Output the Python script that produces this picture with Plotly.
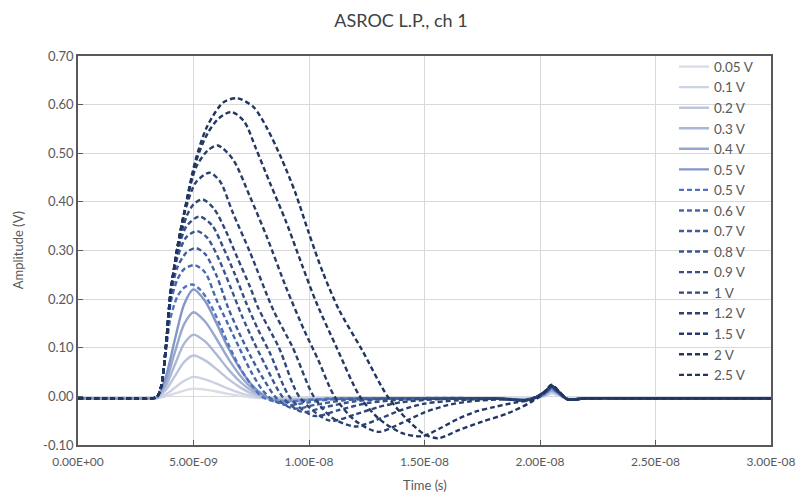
import plotly.graph_objects as go

TIME_UNIT = 1e-9  # time lists below are in nanoseconds

# ---- solid series (shared time grid, ns) ----
t_solid = [0, 3.0, 3.4, 3.8, 4.2, 4.6, 5.0, 5.5, 6.0, 6.5, 7.0, 7.5, 8.0, 8.6, 9.5, 11, 14, 18,
           19.5, 20.2, 20.5, 20.8, 21.2, 22, 25, 30]
v_005 = [-0.004, -0.004, -0.004, 0.000, 0.006, 0.012, 0.016, 0.014, 0.010, 0.005, 0.001, -0.002, -0.004,
         -0.004, -0.004, -0.004, -0.004, -0.004, -0.005, 0.000, 0.006, 0.002, -0.005, -0.004, -0.004, -0.004]
v_01 = [-0.004, -0.004, -0.004, 0.004, 0.018, 0.032, 0.040, 0.035, 0.026, 0.016, 0.007, 0.001, -0.003,
        -0.005, -0.005, -0.004, -0.004, -0.004, -0.005, 0.001, 0.008, 0.003, -0.005, -0.004, -0.004, -0.004]
v_02 = [-0.004, -0.004, -0.003, 0.013, 0.042, 0.071, 0.084, 0.074, 0.056, 0.036, 0.019, 0.006, -0.002,
        -0.006, -0.006, -0.005, -0.004, -0.004, -0.005, 0.002, 0.010, 0.004, -0.005, -0.004, -0.004, -0.004]
v_03 = [-0.004, -0.004, -0.003, 0.021, 0.066, 0.109, 0.127, 0.113, 0.086, 0.056, 0.031, 0.012, 0.000,
        -0.007, -0.007, -0.005, -0.004, -0.004, -0.006, 0.003, 0.012, 0.005, -0.006, -0.004, -0.004, -0.004]
v_04 = [-0.004, -0.004, -0.002, 0.030, 0.092, 0.149, 0.173, 0.154, 0.118, 0.078, 0.044, 0.018, 0.002,
        -0.008, -0.008, -0.005, -0.004, -0.004, -0.006, 0.003, 0.013, 0.005, -0.006, -0.004, -0.004, -0.004]
v_05s = [-0.004, -0.004, -0.002, 0.040, 0.118, 0.190, 0.220, 0.196, 0.150, 0.100, 0.058, 0.025, 0.004,
         -0.009, -0.009, -0.005, -0.004, -0.004, -0.006, 0.004, 0.015, 0.006, -0.006, -0.004, -0.004, -0.004]

# ---- dashed series (own time grids, ns) ----
t_d05 = [0, 3.0, 3.4, 3.6, 3.8, 4.0, 4.3, 4.6, 4.95, 5.3, 5.7, 6.1, 6.5, 7.0, 7.5, 8.0, 8.8, 9.6, 10.8, 13, 18,
         19.5, 20.2, 20.5, 20.8, 21.2, 22, 25, 30]
v_d05 = [-0.004, -0.004, -0.002, 0.020, 0.090, 0.160, 0.205, 0.224, 0.230, 0.219, 0.192, 0.152, 0.108, 0.060,
         0.024, -0.002, -0.013, -0.009, -0.005, -0.004, -0.004, -0.007, 0.006, 0.016, 0.007, -0.006, -0.004,
         -0.004, -0.004]
t_d06 = [0, 3.0, 3.4, 3.6, 3.8, 4.0, 4.3, 4.6, 5.05, 5.5, 6.0, 6.5, 7.0, 7.5, 8.0, 8.4, 9.0, 10.0, 11.0, 13, 18,
         19.5, 20.2, 20.5, 20.8, 21.2, 22, 25, 30]
v_d06 = [-0.004, -0.004, -0.002, 0.020, 0.095, 0.190, 0.240, 0.262, 0.270, 0.255, 0.198, 0.148, 0.098, 0.050,
         0.012, -0.006, -0.018, -0.012, -0.006, -0.004, -0.004, -0.007, 0.007, 0.018, 0.008, -0.006, -0.004,
         -0.004, -0.004]
t_d07 = [0, 3.0, 3.4, 3.6, 3.8, 4.0, 4.3, 4.7, 5.1, 5.5, 6.0, 6.5, 7.0, 7.5, 8.0, 8.6, 9.3, 10.3, 11.5, 13, 18,
         19.5, 20.2, 20.5, 20.8, 21.2, 22, 25, 30]
v_d07 = [-0.004, -0.004, -0.002, 0.020, 0.098, 0.200, 0.265, 0.296, 0.305, 0.293, 0.248, 0.182, 0.128, 0.080,
         0.038, -0.004, -0.025, -0.017, -0.008, -0.005, -0.004, -0.007, 0.007, 0.018, 0.008, -0.006, -0.004,
         -0.004, -0.004]
t_d08 = [0, 3.0, 3.4, 3.6, 3.8, 4.0, 4.3, 4.7, 5.15, 5.6, 6.1, 6.6, 7.1, 7.6, 8.1, 8.9, 9.7, 10.7, 12.0, 13.5, 18,
         19.5, 20.2, 20.5, 20.8, 21.2, 22, 25, 30]
v_d08 = [-0.004, -0.004, -0.002, 0.020, 0.100, 0.205, 0.285, 0.328, 0.340, 0.326, 0.282, 0.225, 0.165, 0.113,
         0.065, -0.004, -0.032, -0.022, -0.010, -0.005, -0.004, -0.007, 0.008, 0.019, 0.009, -0.006, -0.004,
         -0.004, -0.004]
t_d09 = [0, 3.0, 3.4, 3.6, 3.8, 4.0, 4.3, 4.7, 5.25, 5.8, 6.3, 6.8, 7.3, 7.8, 8.3, 9.2, 10.2, 11.3, 12.5, 14, 18,
         19.5, 20.2, 20.5, 20.8, 21.2, 22, 25, 30]
v_d09 = [-0.004, -0.004, -0.002, 0.020, 0.100, 0.208, 0.295, 0.350, 0.370, 0.352, 0.305, 0.250, 0.190, 0.137,
         0.090, -0.004, -0.040, -0.028, -0.014, -0.007, -0.004, -0.007, 0.008, 0.020, 0.009, -0.006, -0.004,
         -0.004, -0.004]
t_d10 = [0, 3.0, 3.4, 3.6, 3.8, 4.0, 4.3, 4.7, 5.0, 5.4, 5.9, 6.4, 6.9, 7.45, 7.8, 8.7, 9.6, 10.9, 12.0, 13.0,
         14.0, 15.5, 18, 19.5, 20.2, 20.5, 20.8, 21.2, 22, 25, 30]
v_d10 = [-0.004, -0.004, -0.002, 0.020, 0.100, 0.210, 0.300, 0.370, 0.395, 0.405, 0.385, 0.340, 0.285, 0.225,
         0.182, 0.100, -0.002, -0.050, -0.037, -0.022, -0.012, -0.006, -0.004, -0.007, 0.009, 0.021, 0.009,
         -0.006, -0.004, -0.004, -0.004]
t_d12 = [0, 3.0, 3.4, 3.6, 3.8, 4.0, 4.3, 4.6, 5.1, 5.7, 6.15, 6.7, 7.45, 8.45, 9.3, 10.2, 11.0, 12.0, 13.0, 14.0,
         15.0, 16.5, 18, 19.5, 20.2, 20.5, 20.8, 21.2, 22, 25, 30]
v_d12 = [-0.004, -0.004, -0.002, 0.020, 0.100, 0.210, 0.305, 0.375, 0.440, 0.460, 0.442, 0.378, 0.296, 0.178,
         0.100, 0.000, -0.044, -0.062, -0.047, -0.028, -0.015, -0.008, -0.005, -0.007, 0.009, 0.021, 0.010,
         -0.006, -0.004, -0.004, -0.004]
t_d15 = [0, 3.0, 3.4, 3.6, 3.8, 4.0, 4.3, 4.6, 5.1, 5.6, 6.05, 6.7, 7.45, 8.2, 9.0, 9.8, 10.4, 11.1, 12.0, 13.0,
         14.0, 15.0, 16.0, 17.0, 18.5, 19.5, 20.2, 20.5, 20.8, 21.2, 22, 25, 30]
v_d15 = [-0.004, -0.004, -0.002, 0.020, 0.100, 0.210, 0.305, 0.378, 0.470, 0.505, 0.516, 0.488, 0.410, 0.325,
         0.225, 0.135, 0.075, 0.000, -0.050, -0.073, -0.055, -0.033, -0.018, -0.010, -0.006, -0.007, 0.009,
         0.022, 0.010, -0.006, -0.004, -0.004, -0.004]
t_d20 = [0, 3.0, 3.4, 3.6, 3.8, 4.0, 4.3, 4.6, 5.1, 5.6, 6.1, 6.65, 7.2, 7.7, 8.3, 9.0, 9.7, 10.3, 11.2, 12.2,
         13.0, 14.0, 14.9, 15.7, 16.5, 17.3, 18.0, 19.0, 19.8, 20.2, 20.5, 20.8, 21.2, 22, 25, 30]
v_d20 = [-0.004, -0.004, -0.002, 0.020, 0.100, 0.210, 0.305, 0.378, 0.482, 0.540, 0.572, 0.585, 0.565, 0.510,
         0.440, 0.360, 0.270, 0.195, 0.100, 0.000, -0.045, -0.075, -0.082, -0.065, -0.045, -0.030, -0.022,
         -0.012, -0.006, 0.008, 0.022, 0.011, -0.006, -0.004, -0.004, -0.004]
t_d25 = [0, 3.0, 3.4, 3.6, 3.8, 4.0, 4.3, 4.6, 5.1, 5.6, 6.3, 6.9, 7.6, 8.2, 8.8, 9.4, 10.0, 10.6, 11.3, 12.3,
         13.4, 14.3, 15.0, 15.6, 16.5, 17.5, 18.6, 19.6, 20.2, 20.5, 20.8, 21.2, 22, 25, 30]
v_d25 = [-0.004, -0.004, -0.002, 0.020, 0.100, 0.210, 0.305, 0.378, 0.488, 0.556, 0.605, 0.613, 0.595, 0.550,
         0.490, 0.420, 0.335, 0.255, 0.178, 0.095, 0.000, -0.050, -0.078, -0.086, -0.069, -0.052, -0.035,
         -0.012, 0.010, 0.024, 0.012, -0.006, -0.004, -0.004, -0.004]

series_names = ["0.05 V", "0.1 V", "0.2 V", "0.3 V", "0.4 V", "0.5 V",
                "0.5 V", "0.6 V", "0.7 V", "0.8 V", "0.9 V", "1 V", "1.2 V", "1.5 V", "2 V", "2.5 V"]
series_t = [t_solid] * 6 + [t_d05, t_d06, t_d07, t_d08, t_d09, t_d10, t_d12, t_d15, t_d20, t_d25]
series_v = [v_005, v_01, v_02, v_03, v_04, v_05s,
            v_d05, v_d06, v_d07, v_d08, v_d09, v_d10, v_d12, v_d15, v_d20, v_d25]

x_tick_vals = [0, 5e-9, 1e-8, 1.5e-8, 2e-8, 2.5e-8, 3e-8]
x_tick_text = ["0.00E+00", "5.00E-09", "1.00E-08", "1.50E-08", "2.00E-08", "2.50E-08", "3.00E-08"]
y_tick_vals = [-0.1, 0.0, 0.1, 0.2, 0.3, 0.4, 0.5, 0.6, 0.7]
y_tick_text = ["-0.10", "0.00", "0.10", "0.20", "0.30", "0.40", "0.50", "0.60", "0.70"]

# ---- styles ----
colors = ["#d9dce6", "#cdd2e2", "#bcc5dd", "#aab6d6", "#97a7cf", "#8496c6",
          "#4f74bd", "#4769ae", "#3f5e9d", "#3a5690", "#344d83", "#2f4678", "#2b4170", "#273c69", "#233763",
          "#203560"]
dashes = ["solid"] * 6 + ["5px,3px"] * 10

fig = go.Figure()
for name, ts, vs, c, d in zip(series_names, series_t, series_v, colors, dashes):
    fig.add_trace(go.Scatter(
        x=[t * TIME_UNIT for t in ts], y=vs, name=name, mode="lines",
        line=dict(color=c, width=2.4, dash=d, shape="spline", smoothing=0.8),
    ))

font_fam = "Lato, 'Open Sans', sans-serif"
fig.update_layout(
    width=802, height=499,
    margin=dict(l=78, r=31, t=56, b=54),
    paper_bgcolor="white", plot_bgcolor="white",
    font=dict(family=font_fam, size=13, color="#595959"),
    title=dict(text="ASROC L.P., ch 1", x=0.5, xanchor="center", y=0.958, yanchor="middle",
               font=dict(size=18, color="#404040", family=font_fam)),
    showlegend=True,
    legend=dict(x=0.860, xanchor="left", y=1.012, yanchor="top", bgcolor="rgba(0,0,0,0)",
                borderwidth=0, font=dict(size=13.5, color="#595959"), tracegroupgap=0,
                itemwidth=30, maxheight=420),
    xaxis=dict(range=[0, 3e-8], tickvals=x_tick_vals, ticktext=x_tick_text,
               showgrid=True, gridcolor="#d9d9d9", gridwidth=1,
               showline=True, linecolor="#595959", linewidth=1.5, mirror=True,
               ticks="inside", ticklen=5, tickcolor="#595959", ticklabelstandoff=5,
               tickfont=dict(size=12), automargin=False, zeroline=False),
    yaxis=dict(range=[-0.1, 0.7], tickvals=y_tick_vals, ticktext=y_tick_text,
               showgrid=True, gridcolor="#d9d9d9", gridwidth=1,
               showline=True, linecolor="#595959", linewidth=1.5, mirror=True,
               ticks="inside", ticklen=5, tickcolor="#595959",
               tickfont=dict(size=13), automargin=False, zeroline=False),
    annotations=[
        dict(text="Time (s)", xref="paper", yref="paper", x=0.5, y=-0.103,
             xanchor="center", yanchor="middle", showarrow=False,
             font=dict(size=13, color="#595959")),
        dict(text="Amplitude (V)", xref="paper", yref="paper", x=-0.087, y=0.5,
             xanchor="center", yanchor="middle", textangle=-90, showarrow=False,
             font=dict(size=13, color="#595959")),
    ],
)

fig.write_html("out.html")
